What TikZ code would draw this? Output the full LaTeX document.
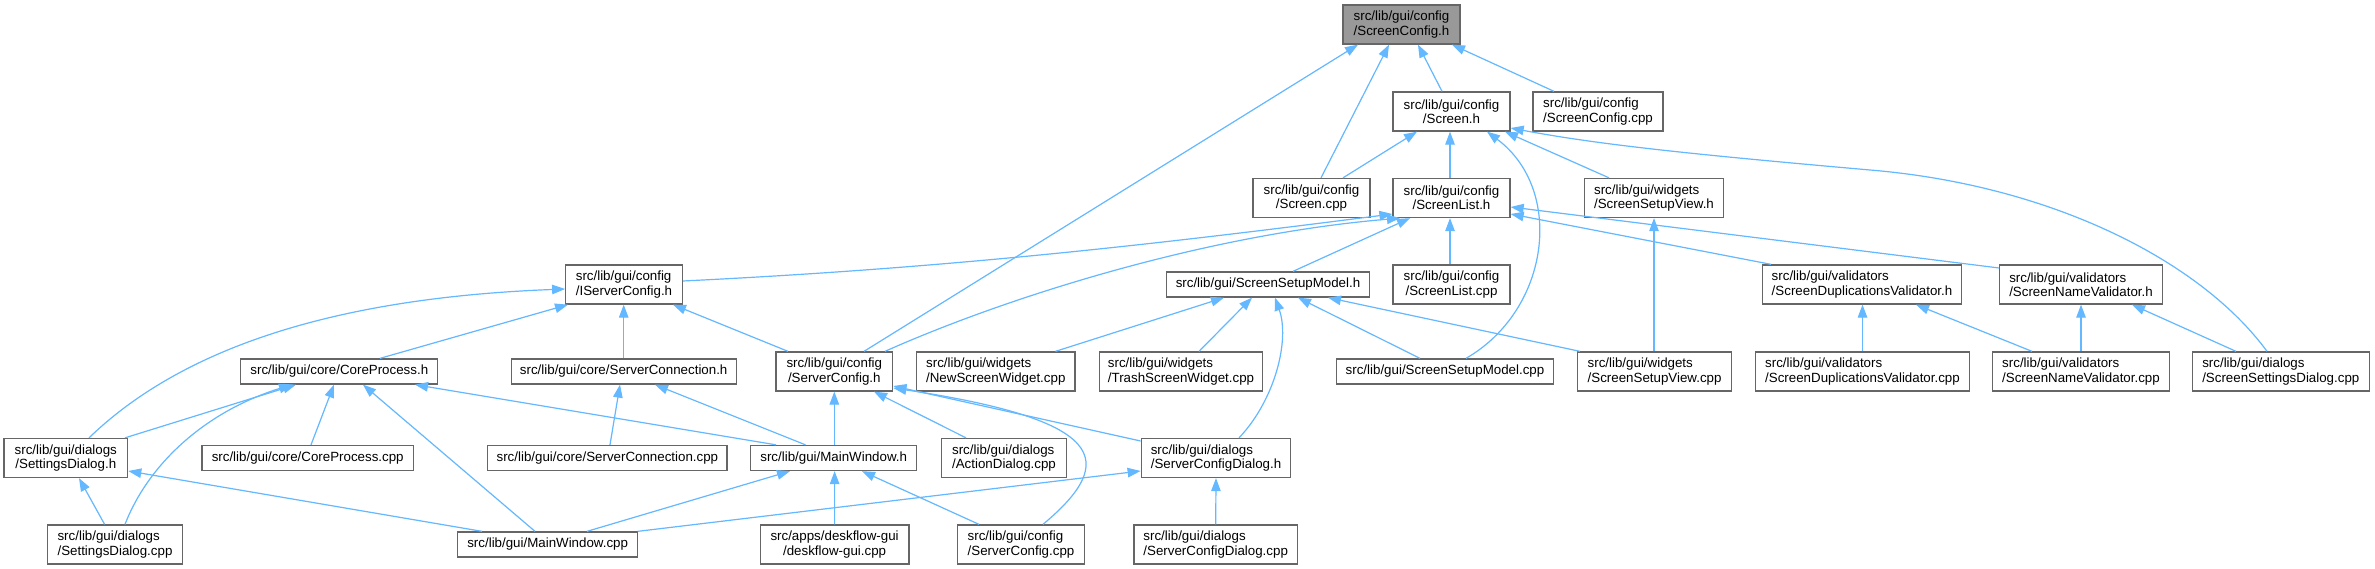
\documentclass[tikz,border=0pt]{standalone}
\usepackage{fontspec}
\setmainfont{Liberation Sans}
\usetikzlibrary{arrows.meta}
\definecolor{edgeblue}{HTML}{63B8FF}
\definecolor{boxgray}{HTML}{666666}
\definecolor{rootfill}{HTML}{999999}
\begin{document}
\begin{tikzpicture}[x=1pt,y=-1pt,
  nb/.style={draw=boxgray, line width=1.3pt, fill=white, inner sep=0pt, minimum height=39pt, font=\fontsize{13.33}{14.2}\selectfont, text=black},
  nl/.style={nb, align=left},
  nc/.style={nb, align=center},
  n1/.style={nb, minimum height=25pt},
  root/.style={fill=rootfill},
  edge/.style={draw=edgeblue, line width=1.2pt, -{Triangle[length=13pt,width=9.5pt]}},
]
\path[fill=white,use as bounding box] (0,0) rectangle (2375,569);

\node[nl,root,minimum width=117pt] (sch) at (1401.5,24.5) {src/lib/gui/config\\/ScreenConfig.h};
\node[nc,minimum width=117pt] (sh) at (1451.5,111.5) {src/lib/gui/config\\/Screen.h};
\node[nl,minimum width=130pt] (scc) at (1598,111.5) {src/lib/gui/config\\/ScreenConfig.cpp};
\node[nc,minimum width=117pt] (scpp) at (1311.5,198) {src/lib/gui/config\\/Screen.cpp};
\node[nc,minimum width=117pt] (slh) at (1451.5,198) {src/lib/gui/config\\/ScreenList.h};
\node[nl,minimum width=139.5pt] (svh) at (1654,198) {src/lib/gui/widgets\\/ScreenSetupView.h};
\node[nl,minimum width=116.5pt] (isch) at (624,284.5) {src/lib/gui/config\\/IServerConfig.h};
\node[n1,minimum width=202.6pt] (smh) at (1268,284.5) {src/lib/gui/ScreenSetupModel.h};
\node[nc,minimum width=117pt] (slc) at (1451.5,284.5) {src/lib/gui/config\\/ScreenList.cpp};
\node[nl,minimum width=199pt] (dvh) at (1862,284.5) {src/lib/gui/validators\\/ScreenDuplicationsValidator.h};
\node[nl,minimum width=162.5pt] (nvh) at (2081,284.5) {src/lib/gui/validators\\/ScreenNameValidator.h};
\node[n1,minimum width=197pt] (cph) at (339.3,371.5) {src/lib/gui/core/CoreProcess.h};
\node[n1,minimum width=225pt] (sconh) at (623.7,371.5) {src/lib/gui/core/ServerConnection.h};
\node[nc,minimum width=116.7pt] (srvh) at (834.3,371.5) {src/lib/gui/config\\/ServerConfig.h};
\node[nl,minimum width=158.2pt] (nsw) at (995.8,371.5) {src/lib/gui/widgets\\/NewScreenWidget.cpp};
\node[nl,minimum width=163.3pt] (tsw) at (1181,371.5) {src/lib/gui/widgets\\/TrashScreenWidget.cpp};
\node[n1,minimum width=217pt] (smc) at (1445,371.5) {src/lib/gui/ScreenSetupModel.cpp};
\node[nl,minimum width=153.8pt] (svc) at (1654.6,371.5) {src/lib/gui/widgets\\/ScreenSetupView.cpp};
\node[nl,minimum width=214.2pt] (dvc) at (1862.5,371.5) {src/lib/gui/validators\\/ScreenDuplicationsValidator.cpp};
\node[nl,minimum width=177.3pt] (nvc) at (2081,371.5) {src/lib/gui/validators\\/ScreenNameValidator.cpp};
\node[nl,minimum width=176.7pt] (ssd) at (2280.8,371.5) {src/lib/gui/dialogs\\/ScreenSettingsDialog.cpp};
\node[nc,minimum width=123.7pt] (sdh) at (65.8,458) {src/lib/gui/dialogs\\/SettingsDialog.h};
\node[n1,minimum width=211.3pt] (cpc) at (307.7,458) {src/lib/gui/core/CoreProcess.cpp};
\node[n1,minimum width=239.2pt] (sconc) at (607.4,458) {src/lib/gui/core/ServerConnection.cpp};
\node[n1,minimum width=166pt] (mwh) at (833.7,458) {src/lib/gui/MainWindow.h};
\node[nl,minimum width=124.5pt] (adc) at (1004,458) {src/lib/gui/dialogs\\/ActionDialog.cpp};
\node[nl,minimum width=149.5pt] (scdh) at (1216,458) {src/lib/gui/dialogs\\/ServerConfigDialog.h};
\node[nl,minimum width=135.4pt] (sdc) at (115,544.5) {src/lib/gui/dialogs\\/SettingsDialog.cpp};
\node[n1,minimum width=180pt] (mwc) at (547.7,544.5) {src/lib/gui/MainWindow.cpp};
\node[nc,minimum width=148.8pt] (dfc) at (834.6,544.5) {src/apps/deskflow-gui\\/deskflow-gui.cpp};
\node[nl,minimum width=127pt] (srvc) at (1021,544.5) {src/lib/gui/config\\/ServerConfig.cpp};
\node[nl,minimum width=163.3pt] (scdc) at (1215.7,544.5) {src/lib/gui/dialogs\\/ServerConfigDialog.cpp};

\draw[edge] ([xshift=-9.5pt]sh.north) -- ([xshift=16.5pt]sch.south);
\draw[edge] ([xshift=-44pt]scc.north) -- ([xshift=50.5pt]sch.south);
\draw[edge] ([xshift=9.5pt]scpp.north) -- ([xshift=-12.5pt]sch.south);
\draw[edge] ([xshift=29.7pt]srvh.north) -- ([xshift=-43.5pt]sch.south);
\draw[edge] ([xshift=31.5pt]scpp.north) -- ([xshift=-34.5pt]sh.south);
\draw[edge] ([xshift=-1.5pt]slh.north) -- ([xshift=-1.5pt]sh.south);
\draw[edge] ([xshift=-45pt]svh.north) -- ([xshift=53.5pt]sh.south);
\draw[edge] ([xshift=21pt]smc.north) .. controls (1550,310) and (1565,190) .. ([xshift=35.5pt]sh.south);
\draw[edge] ([xshift=-13.8pt]ssd.north) .. controls (2200,260) and (2050,185) .. (1870,170) .. controls (1700,155) and (1600,145) .. ([yshift=-16.5pt]sh.east);
\draw[edge] ([yshift=3.5pt]isch.east) .. controls (950,268) and (1150,245) .. ([yshift=-16pt]slh.west);
\draw[edge] ([xshift=50.7pt]srvh.north) .. controls (1000,300) and (1200,235) .. ([xshift=-51.5pt]slh.south);
\draw[edge] ([xshift=25pt]smh.north) -- ([xshift=-41.5pt]slh.south);
\draw[edge] ([xshift=-1.5pt]slc.north) -- ([xshift=-1.5pt]slh.south);
\draw[edge] ([xshift=-91pt]dvh.north) -- ([yshift=-16pt]slh.east);
\draw[edge] ([yshift=16.5pt]nvh.west) -- ([yshift=-9pt]slh.east);
\draw[edge] ([xshift=-0.6pt]svc.north) -- (svh.south);
\draw[edge] ([xshift=23.2pt]sdh.north) .. controls (180,350) and (330,298) .. ([yshift=-4.5pt]isch.west);
\draw[edge] ([xshift=40.7pt]cph.north) -- ([xshift=-56pt]isch.south);
\draw[edge] (sconh.north) -- ([xshift=-0.3pt]isch.south);
\draw[edge] ([xshift=-46.3pt]srvh.north) -- ([xshift=49pt]isch.south);
\draw[edge] ([xshift=59.7pt]nsw.north) -- ([xshift=-44pt]smh.south);
\draw[edge] ([xshift=18pt]tsw.north) -- ([xshift=-16pt]smh.south);
\draw[edge] ([xshift=23pt]scdh.north) .. controls (1275,400) and (1290,340) .. ([xshift=7pt]smh.south);
\draw[edge] ([xshift=-25pt]smc.north) -- ([xshift=30pt]smh.south);
\draw[edge] ([xshift=-74.6pt]svc.north) -- ([xshift=60pt]smh.south);
\draw[edge] (dvc.north) -- ([xshift=0.5pt]dvh.south);
\draw[edge] ([xshift=-49pt]nvc.north) -- ([xshift=54pt]dvh.south);
\draw[edge] (nvc.north) -- (nvh.south);
\draw[edge] ([xshift=-44.8pt]ssd.north) -- ([xshift=51pt]nvh.south);
\draw[edge] ([xshift=59.2pt]sdh.north) -- ([xshift=-43.3pt]cph.south);
\draw[edge] ([xshift=10pt]sdc.north) .. controls (150,460) and (210,410) .. ([xshift=-47.3pt]cph.south);
\draw[edge] ([xshift=3.3pt]cpc.north) -- ([xshift=-5.3pt]cph.south);
\draw[edge] ([xshift=-12.7pt]mwc.north) -- ([xshift=23.7pt]cph.south);
\draw[edge] ([xshift=-57.7pt]mwh.north) -- ([xshift=75.7pt]cph.south);
\draw[edge] ([xshift=2.6pt]sconc.north) -- ([xshift=-3.7pt]sconh.south);
\draw[edge] ([xshift=-28.2pt]mwh.north) -- ([xshift=31.3pt]sconh.south);
\draw[edge] ([xshift=0.6pt]mwh.north) -- (srvh.south);
\draw[edge] ([xshift=-38pt]adc.north) -- ([xshift=39.7pt]srvh.south);
\draw[edge] ([xshift=22pt]srvc.north) .. controls (1120,460) and (1105,420) .. ([yshift=-16.5pt]srvh.east);
\draw[edge] ([yshift=17pt]scdh.west) -- ([yshift=-14.5pt]srvh.east);
\draw[edge] ([xshift=-10.4pt]sdc.north) -- ([xshift=13.2pt]sdh.south);
\draw[edge] ([xshift=-65.7pt]mwc.north) -- ([yshift=-13pt]sdh.east);
\draw[edge] ([xshift=39.3pt]mwc.north) -- ([xshift=-43.7pt]mwh.south);
\draw[edge] (dfc.north) -- ([xshift=0.9pt]mwh.south);
\draw[edge] ([xshift=-42pt]srvc.north) -- ([xshift=28.3pt]mwh.south);
\draw[edge] ([xshift=90pt]mwc.north) -- ([yshift=-13pt]scdh.west);
\draw[edge] (scdc.north) -- (scdh.south);
\end{tikzpicture}
\end{document}
